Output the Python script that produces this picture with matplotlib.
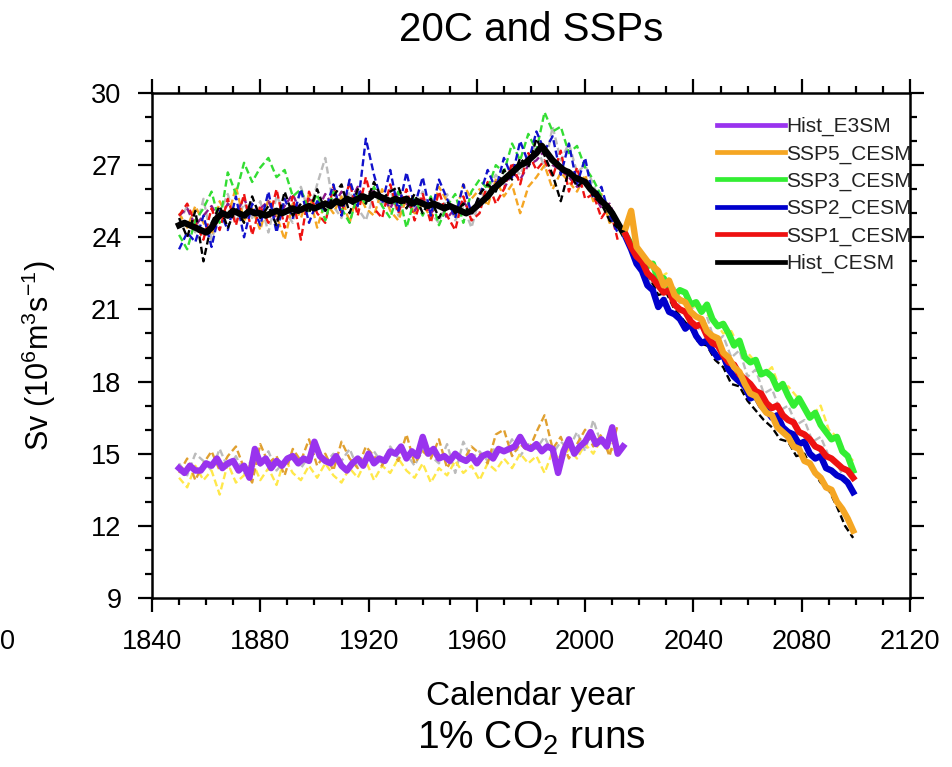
import numpy as np
import matplotlib
matplotlib.use("Agg")
import matplotlib.pyplot as plt
from matplotlib.lines import Line2D

plt.rcParams['font.family'] = ['Liberation Sans', 'DejaVu Sans']
plt.rcParams['mathtext.fontset'] = 'custom'
plt.rcParams['mathtext.rm'] = 'Liberation Sans'
plt.rcParams['mathtext.it'] = 'Liberation Sans:italic'
plt.rcParams['mathtext.bf'] = 'Liberation Sans:bold'

# ---------------- data ----------------
title = "20C and SSPs"
xlabel = "Calendar year"
ylabel = "Sv (10$^{6}$m$^{3}$s$^{-1}$)"
subtitle = "1% CO$_2$ runs"
legend_labels = ["Hist_E3SM", "SSP5_CESM", "SSP3_CESM", "SSP2_CESM", "SSP1_CESM", "Hist_CESM"]
legend_colors = ["#9933EE", "#F5A623", "#33EE33", "#0000CC", "#EE1111", "#000000"]
xticks = [1840, 1880, 1920, 1960, 2000, 2040, 2080, 2120]
yticks = [9, 12, 15, 18, 21, 24, 27, 30]

# CESM historical ensemble mean (every 2 years 1850-2014)
years_hist = np.arange(1850, 2015, 2)
hist_cesm = [24.5, 24.6, 24.5, 24.4, 24.3, 24.2, 24.4, 24.8, 25.0, 24.9,
             25.1, 25.0, 24.9, 25.1, 25.0, 25.0, 24.9, 25.0, 25.1, 25.0,
             25.1, 25.2, 25.1, 25.2, 25.3, 25.2, 25.3, 25.4, 25.3, 25.5,
             25.4, 25.6, 25.5, 25.6, 25.7, 25.6, 25.8, 25.7, 25.6, 25.5,
             25.6, 25.5, 25.6, 25.4, 25.5, 25.4, 25.3, 25.4, 25.3, 25.2,
             25.3, 25.2, 25.1, 25.0, 25.1, 25.3, 25.5, 25.7, 26.0, 26.2,
             26.4, 26.6, 26.8, 27.0, 27.1, 27.3, 27.5, 27.8, 27.5, 27.2,
             27.0, 26.8, 26.7, 26.5, 26.4, 26.3, 26.0, 25.8, 25.5, 25.3,
             25.0, 24.6, 24.2]

# E3SM historical ensemble mean (every 2 years 1850-2014)
hist_e3sm = [14.4, 14.2, 14.5, 14.3, 14.3, 14.6, 14.5, 14.8, 14.4, 14.6,
             14.7, 14.3, 14.5, 14.0, 15.2, 14.6, 14.8, 14.4, 14.7, 14.5,
             14.8, 14.9, 14.6, 14.8, 14.7, 15.5, 14.9, 14.7, 14.6, 14.9,
             14.5, 14.3, 14.6, 14.8, 14.5, 15.0, 14.6, 14.8, 14.7, 15.1,
             15.0, 15.3, 14.8, 15.1, 14.9, 15.7, 15.0, 15.2, 14.8, 14.9,
             14.7, 15.0, 14.8, 14.7, 14.9, 14.6, 14.9, 15.0, 14.8, 15.2,
             15.1, 15.2, 15.3, 15.7, 15.3, 15.2, 15.4, 15.1, 15.3, 15.2,
             14.2, 15.1, 15.6, 15.0, 15.3, 15.5, 15.9, 15.4, 15.6, 15.3,
             16.1, 15.0, 15.3]

# CESM historical individual members (every 3 years 1850-2012)
years_mem = np.arange(1850, 2014, 3)
cesm_mem_red = [24.9, 25.4, 24.6, 23.9, 25.2, 24.3, 25.6, 24.5, 25.8, 24.1,
                25.3, 24.6, 26.0, 24.4, 25.7, 23.9, 25.9, 25.0, 24.6, 26.1,
                25.0, 26.3, 24.9, 26.5, 25.2, 24.8, 26.2, 25.0, 26.0, 24.7,
                25.8, 24.6, 25.9, 24.9, 24.3, 25.7, 24.7, 25.0, 26.3, 25.4,
                26.0, 27.1, 26.2, 27.5, 26.8, 27.2, 26.5, 27.6, 25.9, 26.9,
                25.6, 25.8, 24.8, 25.3, 23.9]
cesm_mem_blue = [23.5, 24.2, 23.8, 24.9, 23.6, 25.1, 24.3, 25.7, 24.0, 25.4,
                 24.5, 25.9, 24.2, 25.6, 24.8, 26.0, 24.6, 25.5, 25.1, 26.2,
                 24.9, 26.4, 25.3, 28.1, 26.6, 25.4, 26.8, 25.1, 26.7, 25.3,
                 26.5, 24.9, 26.4, 25.6, 24.8, 26.2, 25.0, 25.7, 26.8, 26.0,
                 27.3, 26.5, 28.0, 27.1, 28.4, 27.6, 28.2, 26.6, 27.9, 26.2,
                 27.3, 25.6, 26.1, 24.9, 24.2]
cesm_mem_green = [24.1, 23.5, 24.7, 25.2, 25.9, 24.6, 26.7, 25.8, 27.1, 26.3,
                  26.9, 27.3, 26.5, 26.8, 25.7, 26.0, 25.1, 25.8, 24.7, 25.9,
                  25.2, 24.6, 25.8, 25.4, 26.1, 25.3, 24.8, 25.9, 24.4, 25.6,
                  24.9, 25.7, 24.5, 25.3, 25.8, 24.6, 25.9, 26.4, 26.0, 27.0,
                  26.7, 27.9, 27.2, 28.3, 27.6, 29.2, 28.4, 28.6, 27.5, 27.8,
                  26.9, 26.4, 25.7, 25.0, 24.6]
cesm_mem_orange = [25.0, 24.4, 25.3, 24.6, 24.1, 25.5, 24.8, 26.1, 24.7, 25.2,
                   24.3, 25.6, 24.9, 23.9, 25.4, 24.8, 25.8, 24.4, 25.5, 25.0,
                   25.7, 24.6, 25.9, 25.2, 24.9, 26.0, 25.1, 24.7, 25.6, 25.0,
                   25.4, 24.8, 26.1, 25.5, 24.9, 26.2, 25.6, 26.0, 25.3, 26.4,
                   25.7, 26.2, 25.0, 26.1, 26.5, 27.0, 26.0, 26.7, 26.3, 25.9,
                   26.6, 25.5, 25.8, 24.6, 24.8]
cesm_mem_black = [24.8, 24.0, 25.1, 23.0, 24.6, 25.3, 24.4, 25.2, 24.6, 25.7,
                  24.8, 25.3, 24.5, 25.9, 24.9, 25.4, 25.0, 26.0, 25.1, 25.7,
                  26.2, 25.0, 26.0, 25.4, 26.3, 25.6, 25.9, 26.1, 25.2, 25.8,
                  25.0, 25.6, 24.8, 25.5, 25.0, 25.4, 24.9, 25.8, 26.2, 25.9,
                  26.8, 26.4, 27.3, 26.9, 28.1, 27.4, 26.6, 25.5, 26.8, 26.1,
                  26.4, 25.7, 25.4, 24.7, 24.4]
cesm_mem_gray = [24.6, 25.3, 24.2, 25.6, 23.9, 25.0, 25.8, 24.6, 25.4, 24.8,
                 25.5, 24.2, 25.7, 25.1, 24.6, 26.1, 25.0, 26.2, 27.3, 25.3,
                 24.8, 25.9, 25.2, 24.7, 25.8, 25.3, 26.0, 24.9, 25.7, 25.2,
                 25.9, 25.0, 24.6, 25.8, 24.7, 25.3, 24.4, 25.6, 26.0, 26.6,
                 26.2, 27.0, 26.6, 27.4, 27.8, 26.9, 28.6, 27.2, 27.9, 26.7,
                 27.0, 26.2, 25.3, 25.0, 24.3]
cesm_mem_purple = [24.9, 25.2, 24.5, 24.9, 25.3, 24.7, 25.4, 25.0, 25.6, 24.9,
                   25.2, 25.5, 24.7, 25.3, 25.8, 25.0, 25.6, 25.1, 25.8, 25.3,
                   25.9, 25.4, 26.1, 25.5, 26.0, 25.7, 25.2, 25.9, 25.4, 25.1,
                   25.6, 25.0, 25.4, 24.8, 25.2, 25.5, 25.0, 25.3, 25.8, 26.3,
                   26.0, 26.7, 26.4, 27.0, 27.2, 27.6, 27.0, 26.8, 26.5, 26.1,
                   26.2, 25.9, 25.2, 25.4, 24.6]

# E3SM individual members (every 3 years 1850-2012)
e3sm_mem_orange = [14.2, 14.8, 13.9, 14.6, 15.1, 14.3, 14.9, 15.3, 14.4, 13.8,
                   15.4, 14.6, 14.9, 14.1, 15.2, 14.7, 15.6, 14.5, 15.0, 14.3,
                   15.5, 14.8, 14.4, 15.3, 14.9, 14.5, 15.2, 14.7, 15.8, 14.6,
                   15.1, 14.8, 15.6, 14.4, 15.0, 14.7, 15.3, 15.0, 14.6, 15.8,
                   16.0, 14.9, 15.4, 15.1, 15.9, 16.6, 15.2, 15.7, 14.8, 15.4,
                   16.0, 15.3, 15.8, 14.9, 16.2]
e3sm_mem_yellow = [14.0, 13.6, 14.5, 13.9, 14.3, 13.3, 14.6, 13.8, 14.1, 14.7,
                   13.9, 14.4, 13.7, 14.8, 14.2, 13.9, 14.5, 14.0, 14.6, 14.1,
                   13.8, 14.4, 14.0, 14.7, 13.9, 14.5, 14.2, 14.8, 14.3, 14.0,
                   14.6, 13.8, 14.4, 14.1, 14.7, 14.2, 14.5, 13.9, 14.6, 14.3,
                   14.8, 14.4, 15.0, 14.6, 14.9, 14.2, 15.1, 14.7, 15.2, 14.8,
                   15.4, 15.0, 15.6, 15.1, 15.3]
e3sm_mem_gray = [14.6, 14.1, 15.0, 14.7, 14.3, 15.2, 14.4, 14.9, 14.2, 14.8,
                 14.5, 15.1, 14.3, 14.7, 15.0, 14.4, 14.9, 15.3, 14.6, 15.0,
                 14.7, 15.2, 14.4, 14.9, 15.1, 14.6, 15.3, 14.8, 15.0, 14.5,
                 15.2, 14.9, 14.6, 15.4, 14.2, 15.5, 14.8, 15.1, 14.7, 15.3,
                 15.0, 15.6, 14.9, 15.4, 15.2, 15.7, 15.0, 15.5, 15.2, 15.9,
                 15.1, 16.4, 15.4, 15.7, 15.2]

# SSP ensemble means (every 2 years 2015-2099)
years_ssp = np.arange(2015, 2101, 2)
ssp5 = [24.4, 25.1, 23.6, 23.3, 23.0, 22.8, 22.6, 22.0, 22.2, 21.6,
        21.4, 21.3, 20.9, 20.7, 20.6, 20.1, 19.9, 19.8, 19.2, 19.0,
        18.6, 18.4, 17.9, 17.5, 17.4, 17.0, 16.7, 16.6, 16.1, 15.9,
        15.7, 15.3, 15.2, 14.7, 14.6, 14.2, 14.0, 13.6, 13.5, 13.0,
        12.7, 12.3, 11.8]
ssp3 = [24.1, 23.7, 23.4, 23.1, 22.8, 22.9, 22.2, 22.3, 21.9, 21.6,
        21.8, 21.7, 21.2, 21.3, 20.9, 21.2, 20.6, 20.3, 20.4, 20.0,
        19.5, 19.7, 19.0, 18.8, 18.9, 18.3, 18.4, 18.2, 17.7, 17.9,
        17.4, 17.0, 17.3, 16.9, 16.5, 16.7, 16.2, 15.9, 15.6, 15.7,
        15.1, 14.9, 14.3]
ssp2 = [24.0, 23.5, 22.9, 22.6, 22.0, 21.8, 21.1, 21.4, 20.9, 20.8,
        20.6, 20.2, 20.4, 19.9, 19.6, 19.7, 19.3, 19.0, 19.1, 18.5,
        18.2, 18.0, 17.8, 17.3, 17.4, 17.0, 16.8, 16.5, 16.6, 16.1,
        15.9, 15.8, 15.4, 15.5, 15.0, 14.8, 14.9, 14.4, 14.3, 14.1,
        14.0, 13.8, 13.4]
ssp1 = [24.1, 23.6, 23.2, 23.0, 22.5, 22.3, 22.0, 21.7, 21.8, 21.2,
        21.0, 20.9, 20.5, 20.3, 20.4, 19.9, 19.6, 19.5, 19.1, 18.8,
        18.7, 18.3, 18.1, 17.9, 17.6, 17.5, 17.1, 16.9, 17.0, 16.6,
        16.4, 16.3, 15.9, 15.8, 15.6, 15.3, 15.2, 14.9, 14.8, 14.6,
        14.4, 14.3, 14.0]

# SSP individual members (every 3 years 2015-2099)
years_ssp_mem = np.arange(2015, 2101, 3)
ssp_mem_black = [24.0, 23.4, 22.6, 22.3, 21.6, 21.7, 21.0, 20.6, 20.2, 19.6,
                 19.5, 18.9, 18.6, 17.9, 17.8, 17.2, 16.8, 16.4, 16.1, 15.6,
                 15.5, 14.9, 15.0, 14.3, 13.8, 13.5, 12.8, 12.0, 11.5]
ssp_mem_yellow = [24.3, 23.5, 23.0, 22.9, 22.3, 22.5, 21.6, 21.8, 21.2, 21.0,
                  20.8, 20.5, 20.0, 20.1, 19.4, 19.2, 18.8, 18.3, 18.6, 17.7,
                  17.8, 17.4, 16.9, 16.6, 17.0, 16.0, 15.7, 15.1, 14.7]
ssp_mem_gray = [24.2, 23.0, 23.3, 22.0, 22.6, 21.3, 21.9, 20.9, 21.4, 20.2,
                20.7, 19.6, 19.9, 19.0, 19.3, 18.2, 18.5, 17.5, 17.7, 16.8,
                17.0, 16.2, 16.4, 15.5, 15.7, 14.9, 14.6, 13.9, 13.3]

# ---------------- plot ----------------
fig = plt.figure(figsize=(9.53, 7.67), dpi=100)
ax = fig.add_axes([152/953, 1-598/767, (910-152)/953, (598-93)/767])

dash = (0, (3, 1.5))
dlw = 1.7
for vals, c in [(cesm_mem_gray, "#BBBBBB"), (cesm_mem_orange, "#F5A623"),
                (cesm_mem_purple, "#8B1A8B"), (cesm_mem_red, "#EE1111"),
                (cesm_mem_green, "#33DD33"), (cesm_mem_blue, "#1111CC"),
                (cesm_mem_black, "#000000")]:
    ax.plot(years_mem, vals, color=c, lw=dlw, ls=dash)

for vals, c in [(e3sm_mem_gray, "#BBBBBB"), (e3sm_mem_yellow, "#FFE84A"),
                (e3sm_mem_orange, "#E0A030")]:
    ax.plot(years_mem, vals, color=c, lw=dlw, ls=dash)

for vals, c in [(ssp_mem_gray, "#BBBBBB"), (ssp_mem_black, "#000000"),
                (ssp_mem_yellow, "#FFE84A")]:
    ax.plot(years_ssp_mem, vals, color=c, lw=dlw, ls=dash)

thick = 4.6
ax.plot(years_hist, hist_e3sm, color=legend_colors[0], lw=thick, solid_joinstyle='round')
ax.plot(years_hist, hist_cesm, color=legend_colors[5], lw=thick, solid_joinstyle='round')
ax.plot(years_ssp, ssp2, color=legend_colors[3], lw=thick, solid_joinstyle='round')
ax.plot(years_ssp, ssp3, color=legend_colors[2], lw=thick, solid_joinstyle='round')
ax.plot(years_ssp, ssp1, color=legend_colors[4], lw=thick, solid_joinstyle='round')
ax.plot(years_ssp, ssp5, color=legend_colors[1], lw=thick, solid_joinstyle='round')

ax.set_xlim(1840, 2120)
ax.set_ylim(9, 30)
ax.set_xticks(xticks)
ax.set_yticks(yticks)
ax.set_xticks(np.arange(1840, 2121, 10), minor=True)
ax.set_yticks(np.arange(9, 31, 1), minor=True)
ax.tick_params(which='both', direction='out', top=True, right=True, labelsize=19.5, width=1.6)
ax.tick_params(which='major', length=10, pad=12)
ax.tick_params(which='minor', length=5)
for s in ax.spines.values():
    s.set_linewidth(1.8)

ax.set_ylabel(ylabel, fontsize=22)
ax.yaxis.set_label_coords(-0.124, 0.48)
fig.text(531/953, 1-696/767, xlabel, ha='center', va='center', fontsize=24)
fig.text(531/953, 1-30/767, title, ha='center', va='center', fontsize=29)
fig.text(531/953, 1-738/767, subtitle, ha='center', va='center', fontsize=28)
fig.text(0.0, 1-642/767, "0", ha='left', va='center', fontsize=19.5)

handles = [Line2D([], [], color=c, lw=3.4) for c in legend_colors]
leg = ax.legend(handles, legend_labels, loc='upper left', frameon=False,
                bbox_to_anchor=(717/953, 1-117/767), bbox_transform=fig.transFigure,
                borderpad=0, borderaxespad=0, handlelength=3.27, handletextpad=0.05,
                labelspacing=0.39, fontsize=15)
for t in leg.get_texts():
    t.set_color("#222222")

fig.savefig("out.png", dpi=100)
